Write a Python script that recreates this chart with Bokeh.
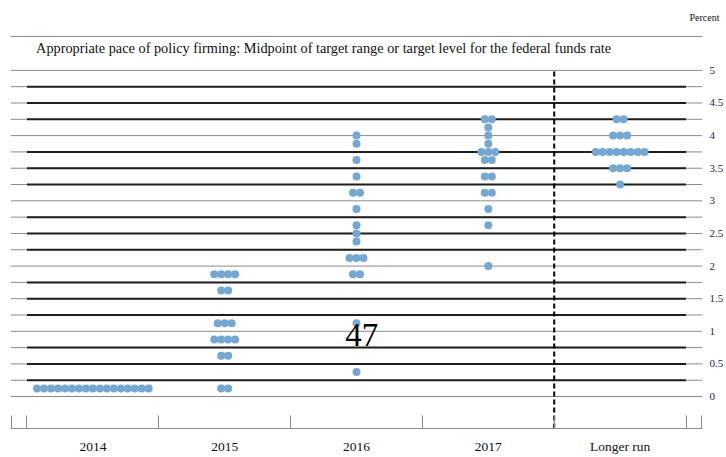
from bokeh.plotting import figure
from bokeh.models import LinearAxis, FixedTicker, Range1d, Label, Title
from bokeh.embed import file_html
from bokeh.resources import INLINE

# ---- data ----
categories = ["2014", "2015", "2016", "2017", "Longer run"]

levels_2014 = [0.125]
counts_2014 = [17]

levels_2015 = [0.125, 0.625, 0.875, 1.125, 1.625, 1.875]
counts_2015 = [2, 2, 4, 3, 2, 4]

levels_2016 = [0.375, 1.125, 1.875, 2.125, 2.375, 2.5, 2.625, 2.875, 3.125, 3.375, 3.625, 3.875, 4.0]
counts_2016 = [1, 1, 2, 3, 1, 1, 1, 1, 2, 1, 1, 1, 1]

levels_2017 = [2.0, 2.625, 2.875, 3.125, 3.375, 3.625, 3.75, 3.875, 4.0, 4.125, 4.25]
counts_2017 = [1, 1, 1, 2, 2, 2, 3, 1, 1, 1, 2]

levels_longer = [3.25, 3.5, 3.75, 4.0, 4.25]
counts_longer = [1, 3, 8, 3, 2]

tick_values = [0, 0.5, 1, 1.5, 2, 2.5, 3, 3.5, 4, 4.5, 5]
tick_labels = ["0", "0.5", "1", "1.5", "2", "2.5", "3", "3.5", "4", "4.5", "5"]

rule_levels = [0, 0.25, 0.5, 0.75, 1, 1.25, 1.5, 1.75, 2, 2.25, 2.5, 2.75,
               3, 3.25, 3.5, 3.75, 4, 4.25, 4.5, 4.75, 5]

title_text = "Appropriate pace of policy firming: Midpoint of target range or target level for the federal funds rate"
unit_text = "Percent"
page_number = "47"

# ---- figure ----
FONT = "Liberation Serif"
X0, X1 = -0.625, 4.625
Y0, Y1 = -0.49, 5.55

p = figure(width=726, height=457, x_range=Range1d(X0, X1), y_range=Range1d(Y0, Y1),
           output_backend="svg", toolbar_location=None,
           x_axis_location=None, y_axis_location=None,
           min_border_left=10, min_border_right=23, min_border_top=34, min_border_bottom=29)
p.outline_line_color = None
p.background_fill_color = "white"
for g in p.grid:
    g.visible = False

# thin gray rules at every quarter level
p.segment(x0=X0, x1=X1, y0=rule_levels, y1=rule_levels, line_color="#8a8a8a", line_width=1)
# thick black rules at non-integer quarter levels
thick = [v for v in rule_levels if v != int(v)]
n = len(categories)
p.segment(x0=-0.5, x1=n - 0.5, y0=thick, y1=thick, line_color="#1e1e1e", line_width=2)
# top rule
p.segment(x0=[X0], x1=[X1], y0=[5.52], y1=[5.52], line_color="#8a8a8a", line_width=1)
# dashed separator before "Longer run"
p.segment(x0=[n - 1.5], x1=[n - 1.5], y0=[Y0], y1=[5.02], line_color="black",
          line_width=2, line_dash="5 3")

# dots
dx = 7 / 132.25
all_levels = [levels_2014, levels_2015, levels_2016, levels_2017, levels_longer]
all_counts = [counts_2014, counts_2015, counts_2016, counts_2017, counts_longer]
xs, ys = [], []
for i, (lv, ct) in enumerate(zip(all_levels, all_counts)):
    for v, c in zip(lv, ct):
        for k in range(c):
            xs.append(i + (k - (c - 1) / 2) * dx)
            ys.append(v)
p.scatter(xs, ys, size=8, fill_color="#74a8d2", line_color=None)

# bottom axis
xaxis = LinearAxis(
    ticker=FixedTicker(ticks=list(range(n)),
                       minor_ticks=[-0.62, -0.5, 0.5, 1.5, 2.5, 3.5, 4.5, 4.62]),
    major_label_overrides={i: c for i, c in enumerate(categories)},
    axis_line_color="#8a8a8a", axis_line_width=1,
    major_tick_line_color=None, major_tick_in=0, major_tick_out=0,
    minor_tick_line_color="#8a8a8a", minor_tick_in=13, minor_tick_out=0,
    major_label_standoff=10,
    major_label_text_font=FONT, major_label_text_font_size="13.5px",
    major_label_text_color="#111111")
p.add_layout(xaxis, "below")

# right axis
yaxis = LinearAxis(
    ticker=FixedTicker(ticks=tick_values),
    major_label_overrides=dict(zip(tick_values, tick_labels)),
    axis_line_color=None, major_tick_line_color=None, minor_tick_line_color=None,
    major_tick_in=0, major_tick_out=0,
    major_label_standoff=7,
    major_label_text_font=FONT, major_label_text_font_size="11px",
    major_label_text_color="#1c2150")
p.add_layout(yaxis, "right")

# unit text above the frame
p.add_layout(Title(text=unit_text, align="right", offset=-17, vertical_align="top",
                   standoff=20, text_font=FONT, text_font_size="10px",
                   text_font_style="normal", text_color="#111111"), "above")

# texts inside the frame
p.add_layout(Label(x=-0.431, y=5.34, text=title_text, text_font=FONT,
                   text_font_size="14.3px", text_baseline="middle", text_color="#111111"))
p.add_layout(Label(x=2.04, y=0.94, text=page_number, text_font=FONT,
                   text_font_size="33px", text_baseline="middle", text_align="center",
                   text_color="black"))

open("out.html", "w").write(file_html(p, INLINE))
